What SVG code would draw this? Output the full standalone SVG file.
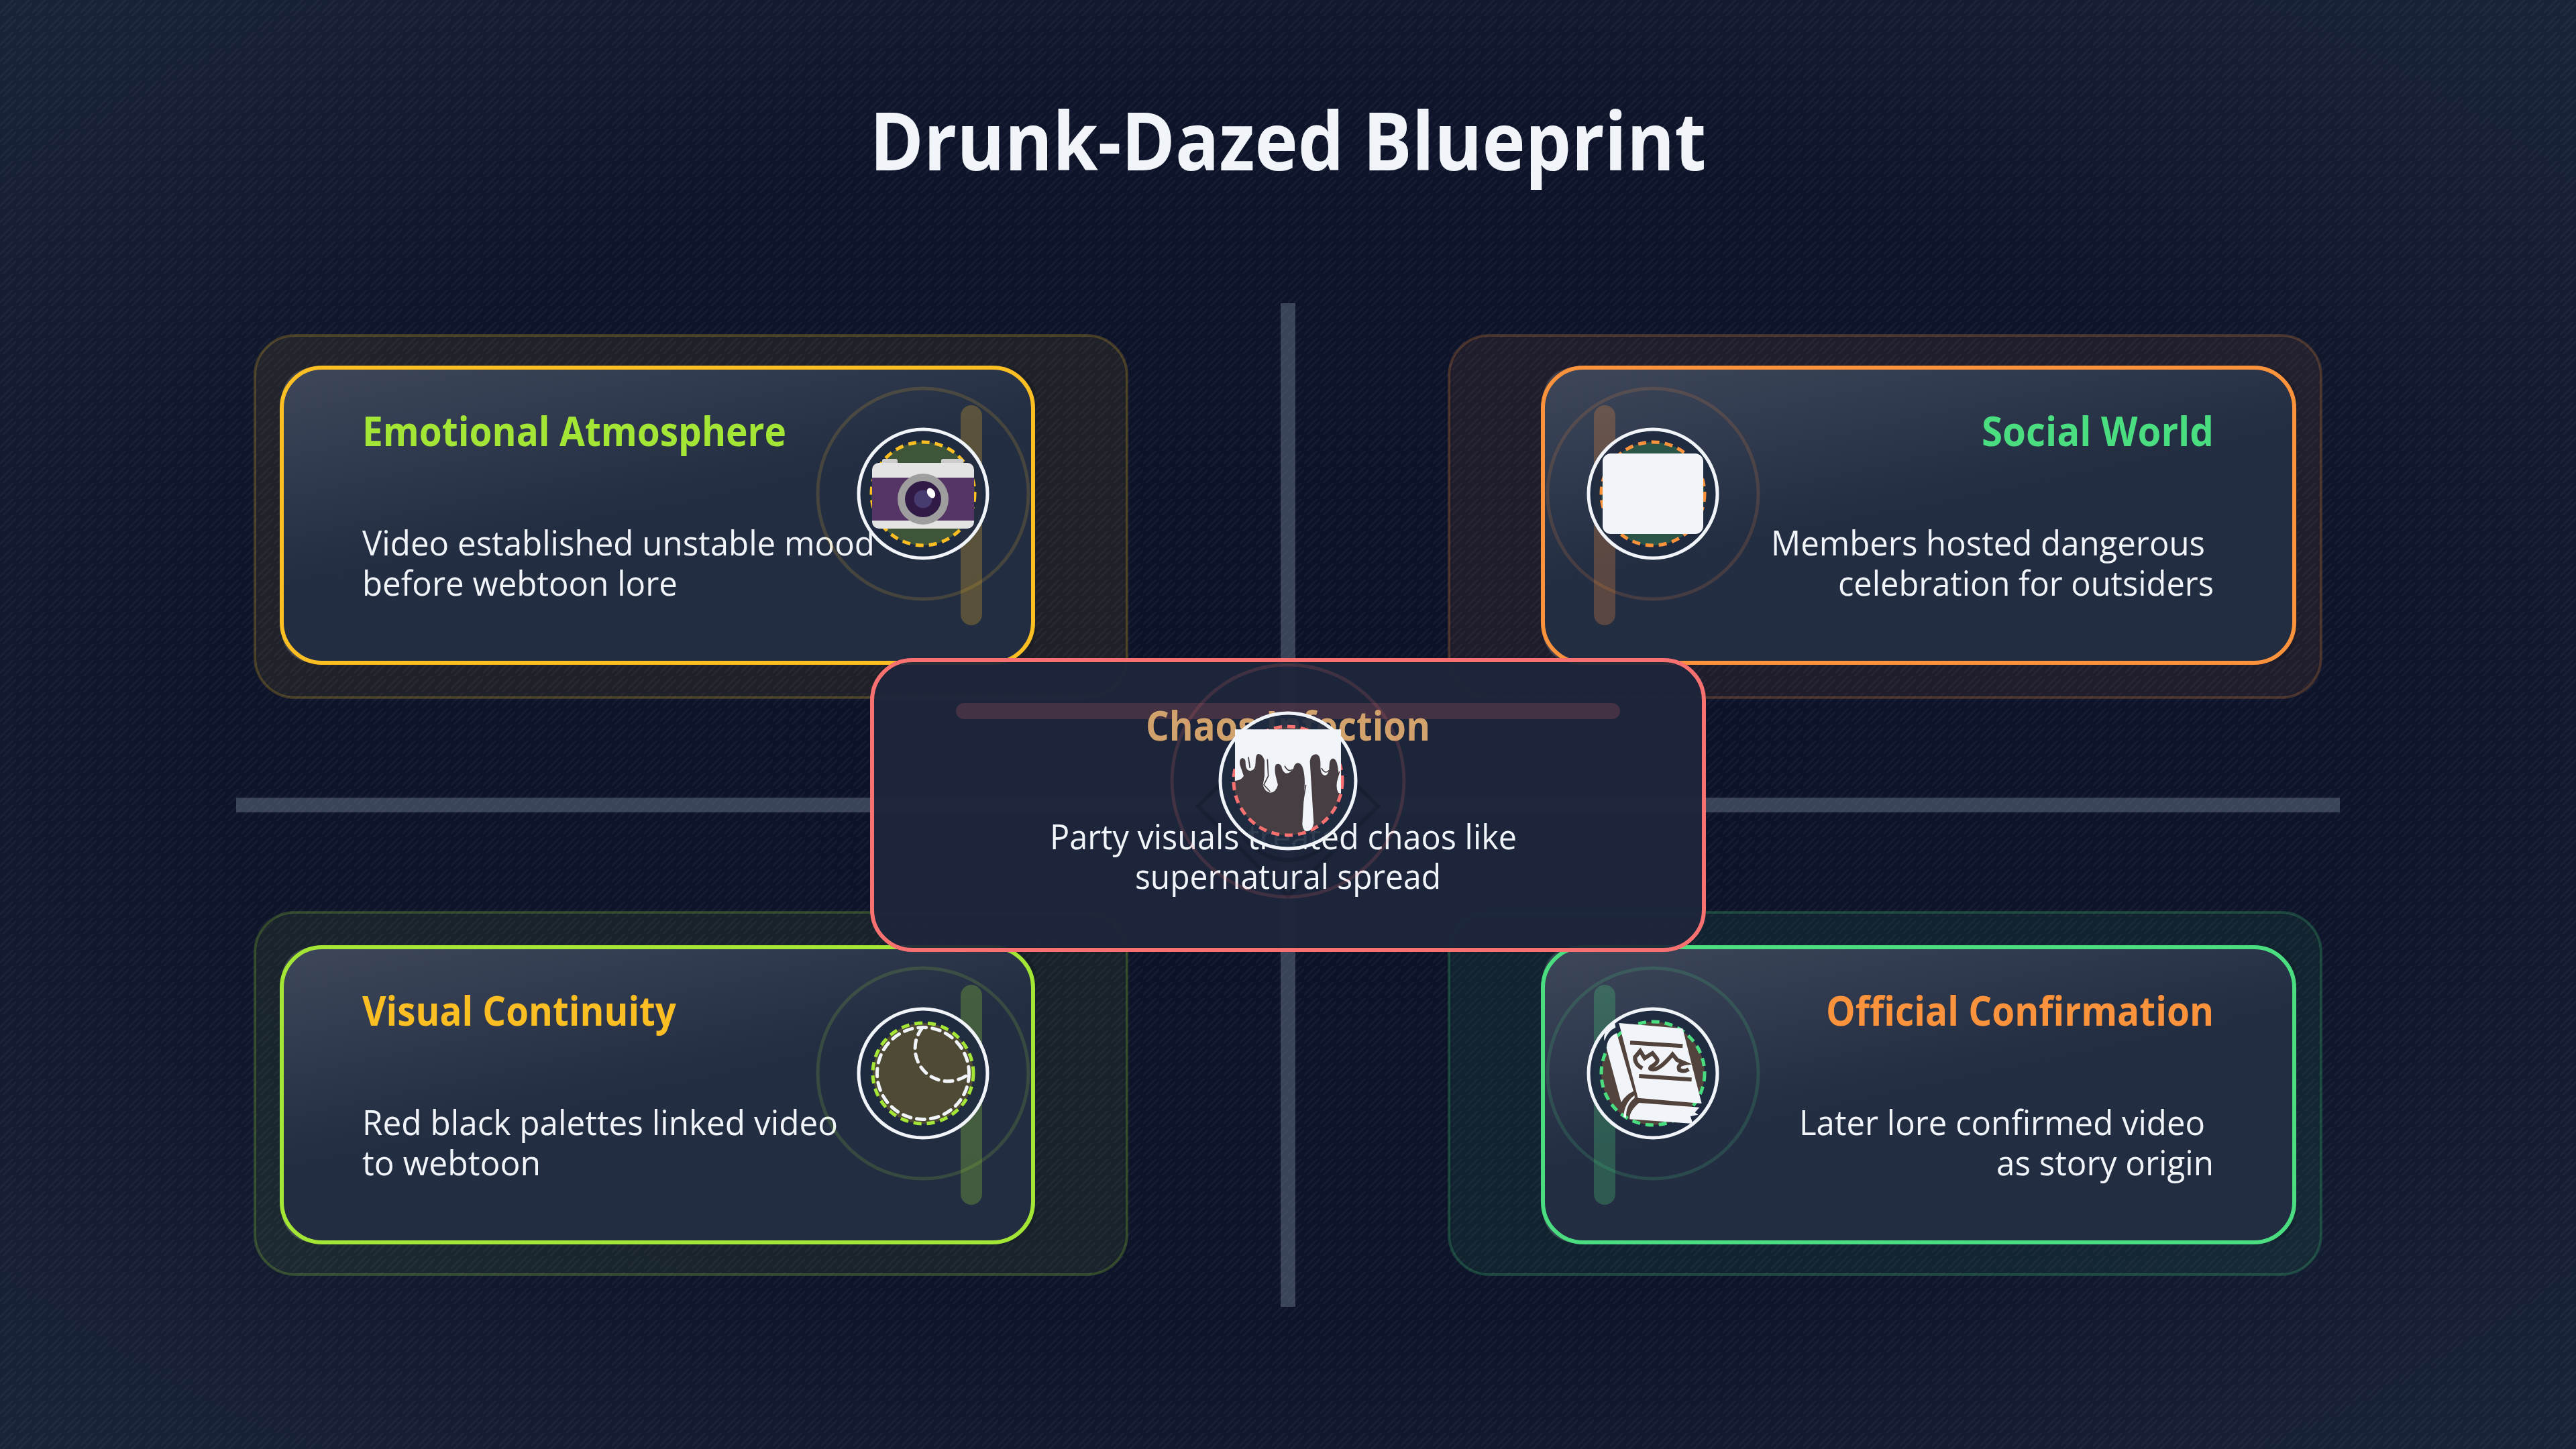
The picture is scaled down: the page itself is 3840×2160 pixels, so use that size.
<svg xmlns="http://www.w3.org/2000/svg" width="3840" height="2160" viewBox="0 0 3840 2160">
<defs>
<radialGradient id="bg" cx="50%" cy="50%" r="70%"><stop offset="0" stop-color="#0c1329"/><stop offset="0.6" stop-color="#0e152b"/><stop offset="1" stop-color="#1a2439"/></radialGradient>
<pattern id="hatch" width="24" height="24" patternUnits="userSpaceOnUse"><path d="M5 24L24 5M0 19L19 0" stroke="#fff" stroke-opacity="0.035" stroke-width="2.5" fill="none"/></pattern>
<linearGradient id="cardG" x1="0" y1="0" x2="0.55" y2="1"><stop offset="0" stop-color="#3e475a"/><stop offset="0.55" stop-color="#242e43"/><stop offset="1" stop-color="#232d42"/></linearGradient>
<linearGradient id="underG" x1="0" y1="0" x2="1" y2="0"><stop offset="0" stop-color="#fff" stop-opacity=".15"/><stop offset="0.5" stop-color="#000" stop-opacity=".05"/><stop offset="1" stop-color="#000" stop-opacity=".12"/></linearGradient>
</defs>
<style>
text{font-family:"Open Sans","Noto Sans","Liberation Sans",sans-serif}
.title{font-size:120px;font-weight:700;fill:#f1f5f9}
.h{font-size:61px;font-weight:700}
.b{font-size:52px;font-weight:400;fill:#f1f5f9}
.panel{stroke-width:4}
.card{fill:url(#cardG);stroke-width:6}
.under{fill:url(#underG)}
.halo{fill:none;stroke-width:5;stroke-opacity:.16}
.disc{fill:#1e2a40;fill-opacity:.92;stroke:#f1f5f9;stroke-width:5}
.dash{stroke-width:5;stroke-dasharray:12 8}
.bar{fill:#94a3b8;fill-opacity:.33}
.hub{fill:none;stroke:#141b2e;stroke-width:6;stroke-opacity:.55}
.end{text-anchor:end}
.mid{text-anchor:middle}
</style>
<rect width="3840" height="2160" fill="url(#bg)"/>
<rect width="3840" height="2160" fill="url(#hatch)"/>
<text class="title mid" x="1920" y="254" textLength="1247" lengthAdjust="spacingAndGlyphs">Drunk-Dazed Blueprint</text>
<g id="connectors">
<rect class="bar" x="1909" y="452" width="22" height="1496"/>
<rect class="bar" x="352" y="1189" width="3136" height="22"/>
</g>
<g id="node-emotional">
<rect class="panel" x="380" y="500" width="1300" height="540" rx="60" fill="#fbbf24" fill-opacity=".08" stroke="#fbbf24" stroke-opacity=".22"/>
<rect class="under" x="420" y="548" width="1124" height="440" rx="46"/>
<rect class="card" x="420" y="548" width="1120" height="440" rx="60" stroke="#fbbf24"/>
<rect x="1432" y="604" width="32" height="328" rx="16" fill="#fbbf24" fill-opacity=".25"/>
<text class="h" x="540" y="665" fill="#a3e635" textLength="632" lengthAdjust="spacingAndGlyphs">Emotional Atmosphere</text>
<text class="b" x="540" y="828" textLength="764" lengthAdjust="spacingAndGlyphs">Video established unstable mood</text>
<text class="b" x="540" y="888" textLength="470" lengthAdjust="spacingAndGlyphs">before webtoon lore</text>
<circle class="halo" cx="1376" cy="736" r="157" stroke="#fbbf24"/>
<circle class="disc" cx="1376" cy="736" r="96"/>
<circle class="dash" cx="1376" cy="736" r="77" fill="#3f5539" stroke="#fbbf24"/>
<rect x="1315" y="684" width="23" height="10" rx="3" fill="#ccc"/><rect x="1403" y="684" width="33" height="10" rx="3" fill="#ccc"/>
<rect x="1300" y="690" width="152" height="98" rx="10" fill="#e3e3e3"/>
<rect x="1300" y="712" width="152" height="64" fill="#553566"/>
<circle cx="1376" cy="744" r="38" fill="#9e9e9e"/><circle cx="1376" cy="744" r="27" fill="#321a47"/><circle cx="1376" cy="744" r="13.5" fill="#463c70"/>
<ellipse cx="1388" cy="735" rx="5.5" ry="8" transform="rotate(-30 1388 735)" fill="#fff"/>
</g>
<g id="node-social">
<rect class="panel" x="2160" y="500" width="1300" height="540" rx="60" fill="#fb923c" fill-opacity=".08" stroke="#fb923c" stroke-opacity=".22"/>
<rect class="under" x="2300" y="548" width="1124" height="440" rx="46"/>
<rect class="card" x="2300" y="548" width="1120" height="440" rx="60" stroke="#fb923c"/>
<rect x="2376" y="604" width="32" height="328" rx="16" fill="#fb923c" fill-opacity=".25"/>
<text class="h end" x="3300" y="665" fill="#4ade80" textLength="346" lengthAdjust="spacingAndGlyphs">Social World</text>
<text class="b" x="2640" y="828" textLength="647" lengthAdjust="spacingAndGlyphs">Members hosted dangerous</text>
<text class="b end" x="3300" y="888" textLength="560" lengthAdjust="spacingAndGlyphs">celebration for outsiders</text>
<circle class="halo" cx="2464" cy="736" r="157" stroke="#fb923c"/>
<circle class="disc" cx="2464" cy="736" r="96"/>
<circle class="dash" cx="2464" cy="736" r="77" fill="#2c5549" stroke="#fb923c"/>
<rect x="2389" y="676" width="150" height="120" rx="12" fill="#f1f5f9"/>
</g>
<g id="node-visual">
<rect class="panel" x="380" y="1360" width="1300" height="540" rx="60" fill="#a3e635" fill-opacity=".07" stroke="#a3e635" stroke-opacity=".22"/>
<rect class="under" x="420" y="1412" width="1124" height="440" rx="46"/>
<rect class="card" x="420" y="1412" width="1120" height="440" rx="60" stroke="#a3e635"/>
<rect x="1432" y="1468" width="32" height="328" rx="16" fill="#a3e635" fill-opacity=".25"/>
<text class="h" x="540" y="1529" fill="#fbbf24" textLength="468" lengthAdjust="spacingAndGlyphs">Visual Continuity</text>
<text class="b" x="540" y="1692" textLength="709" lengthAdjust="spacingAndGlyphs">Red black palettes linked video</text>
<text class="b" x="540" y="1752" textLength="266" lengthAdjust="spacingAndGlyphs">to webtoon</text>
<circle class="halo" cx="1376" cy="1600" r="157" stroke="#a3e635"/>
<circle class="disc" cx="1376" cy="1600" r="96"/>
<circle class="dash" cx="1376" cy="1600" r="75" fill="#4f4a36" stroke="#a3e635"/>
<circle cx="1376" cy="1600" r="68.5" fill="none" stroke="#f1f5f9" stroke-width="5" stroke-linecap="round" stroke-dasharray="12 9"/>
<path d="M1375 1532A49 49 0 0 0 1445 1600" fill="none" stroke="#f1f5f9" stroke-width="5" stroke-linecap="round" stroke-dasharray="12 9"/>
</g>
<g id="node-official">
<rect class="panel" x="2160" y="1360" width="1300" height="540" rx="60" fill="#4ade80" fill-opacity=".07" stroke="#4ade80" stroke-opacity=".22"/>
<rect class="under" x="2300" y="1412" width="1124" height="440" rx="46"/>
<rect class="card" x="2300" y="1412" width="1120" height="440" rx="60" stroke="#4ade80"/>
<rect x="2376" y="1468" width="32" height="328" rx="16" fill="#4ade80" fill-opacity=".25"/>
<text class="h end" x="3300" y="1529" fill="#fb923c" textLength="578" lengthAdjust="spacingAndGlyphs">Official Confirmation</text>
<text class="b" x="2682" y="1692" textLength="605" lengthAdjust="spacingAndGlyphs">Later lore confirmed video</text>
<text class="b end" x="3300" y="1752" textLength="324" lengthAdjust="spacingAndGlyphs">as story origin</text>
<circle class="halo" cx="2464" cy="1600" r="157" stroke="#4ade80"/>
<circle class="disc" cx="2464" cy="1600" r="96"/>
<circle class="dash" cx="2464" cy="1600" r="77" fill="#52433c" stroke="#4ade80"/>
<g transform="translate(2300 1440) scale(.3333)">
<path d="M340 255L625 280L710 615L425 590Z" fill="#f1f5f9"/>
<path d="M330 300L405 560Q370 575 350 610L285 370Q285 320 330 300Z" fill="#f1f5f9"/>
<path d="M322 255L325 275Q290 290 275 335Q265 285 322 255Z" fill="#f1f5f9"/>
<path d="M430 612L700 632L680 655L695 665L660 672L670 705L388 685Q385 650 430 612Z" fill="#f1f5f9"/>
<path d="M410 578Q365 610 360 675L372 680Q370 620 410 590Z" fill="#f1f5f9"/>
<g fill="none" stroke="#52433c" stroke-width="18"><path d="M390 343L625 358M430 492L665 508"/>
<path d="M445 458Q410 440 412 408L435 380L455 412L490 390L510 415Q520 430 485 450Q470 465 500 462Q530 455 580 395L600 420L635 435Q600 440 610 465Q630 475 652 462"/></g>
</g>
</g>
<g id="node-chaos">
<rect x="1300" y="984" width="1240" height="432" rx="60" fill="#1d263b" fill-opacity=".95" stroke="#f87171" stroke-width="6"/>
<path class="hub" d="M1920 1068L2054 1202L1920 1336L1786 1202Z"/>
<circle class="hub" cx="1920" cy="1202" r="80"/>
<rect x="1425" y="1048" width="990" height="24" rx="12" fill="#f87171" fill-opacity=".18"/>
<text class="h mid" x="1920" y="1104" fill="#d1a26c" textLength="424" lengthAdjust="spacingAndGlyphs">Chaos Infection</text>
<text class="b" x="1565" y="1266" textLength="696" lengthAdjust="spacingAndGlyphs">Party visuals treated chaos like</text>
<text class="b mid" x="1920" y="1325" textLength="456" lengthAdjust="spacingAndGlyphs">supernatural spread</text>
<circle class="halo" cx="1920" cy="1164" r="173" stroke="#f87171"/>
<circle class="disc" cx="1920" cy="1164" r="101"/>
<circle class="dash" cx="1920" cy="1164" r="81" fill="#463e42" stroke="#f87171"/>
<g transform="translate(1700 960) scale(.3333)">
<path d="M423 382H897V670L885 665Q870 640 885 590L885 570Q880 510 860 512Q845 515 845 545Q845 585 825 588Q805 585 805 550Q808 495 785 493Q760 495 758 525L775 800Q770 835 745 838Q720 835 725 790L735 620Q733 535 705 532Q690 532 685 555Q670 580 650 578Q635 570 630 545Q620 530 605 540Q598 560 605 590L615 630Q605 665 580 665Q555 660 548 630L555 590L555 520Q545 490 525 492Q515 495 515 530Q515 565 490 568Q470 565 470 530Q470 510 455 510Q440 515 445 540L462 590Q450 610 423 612Z" fill="#f1f5f9"/>
<path d="M483 505L490 555M568 515L572 590L552 630L580 660M645 545Q660 575 680 562M740 630L712 790L730 835M810 555Q825 585 845 565M890 570L868 640L885 675" fill="none" stroke="#463e42" stroke-width="5"/>
</g>
</g>
</svg>
